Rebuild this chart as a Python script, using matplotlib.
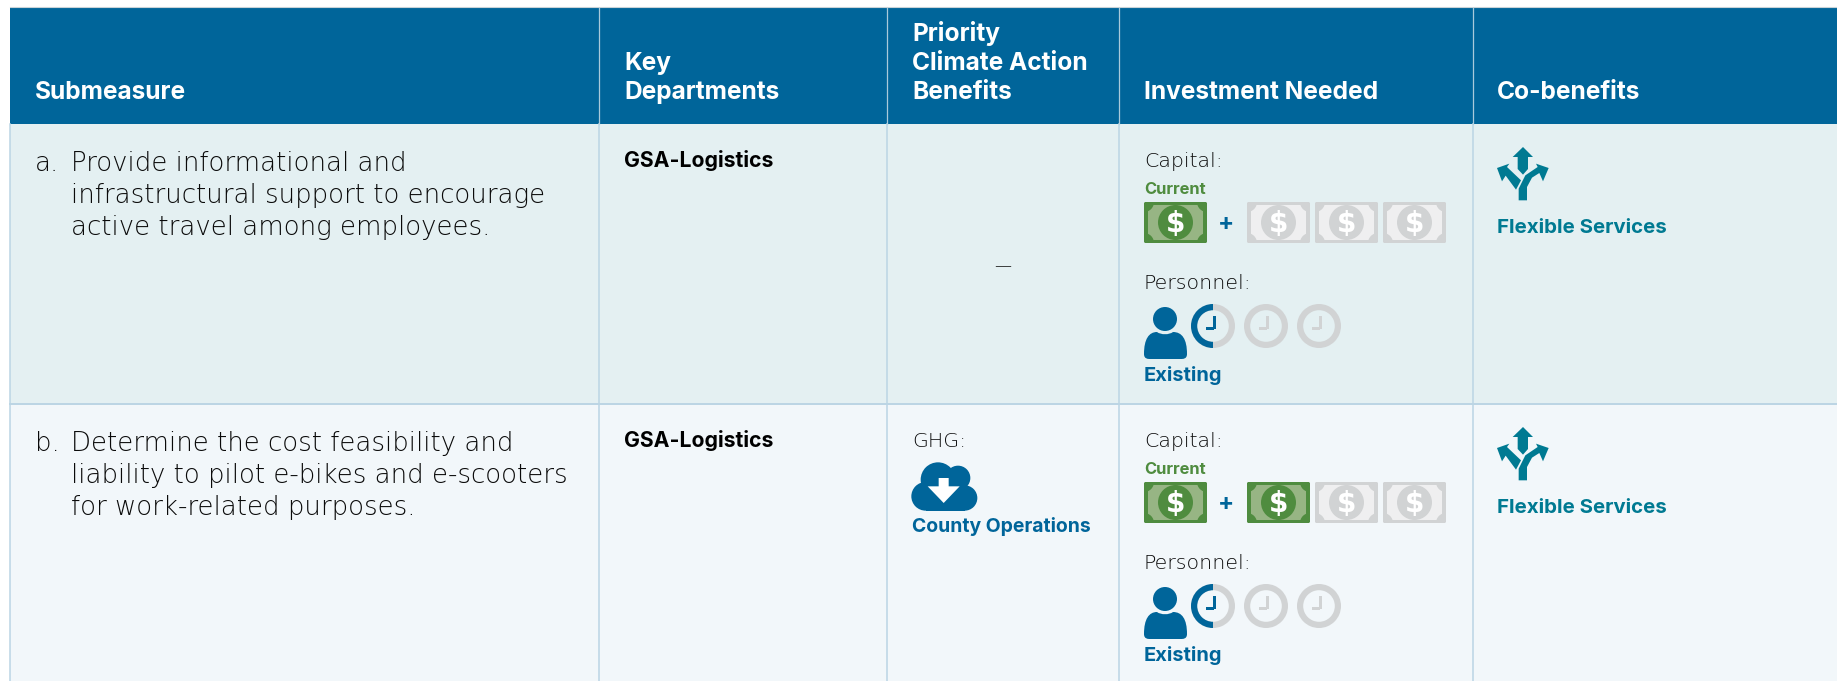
import matplotlib
matplotlib.use("Agg")
import matplotlib.pyplot as plt
from matplotlib.patches import Rectangle, Circle, Wedge, FancyBboxPatch, Polygon, PathPatch
from matplotlib.path import Path

# table content
headers = [["Submeasure"], ["Key", "Departments"], ["Priority", "Climate Action", "Benefits"],
           ["Investment Needed"], ["Co-benefits"]]
letters = ["a.", "b."]
submeasures = [
    ["Provide informational and", "infrastructural support to encourage", "active travel among employees."],
    ["Determine the cost feasibility and", "liability to pilot e-bikes and e-scooters", "for work-related purposes."],
]
departments = ["GSA-Logistics", "GSA-Logistics"]
ghg_benefit = [None, "County Operations"]
bills_current = [1, 1]
bills_new_filled = [0, 1]
bills_new_total = [3, 3]
clocks_total = [3, 3]
personnel_label = ["Existing", "Existing"]
cobenefit = ["Flexible Services", "Flexible Services"]

# layout in pixels
W, H = 1837, 681
col_edges = [10, 599, 887, 1119, 1473, 1837]
head_top, head_bottom = 7, 124
row_tops = [124, 404, 681]

BLUE = "#00659A"
TEAL = "#007A92"
GREEN = "#4F8C3F"
LGREEN = "#97B584"
GRAY = "#D1D3D4"
LGRAY = "#EFEFF0"
ROWS = ["#E4F0F2", "#F2F7FA"]
LINE = "#BBD5E4"
INK = "#0A0A0A"

LIGHT = dict(family="DejaVu Sans", weight=200)
BOLD = dict(family="Inter", weight=700)


def px(size):
    return size * 0.72


fig = plt.figure(figsize=(W / 100, H / 100), dpi=100)
ax = fig.add_axes([0, 0, 1, 1])
ax.set_xlim(0, W)
ax.set_ylim(H, 0)
ax.axis("off")


def bill(x, y, on):
    dark, pale = (GREEN, LGREEN) if on else (GRAY, LGRAY)
    w, h = 63, 41
    body = FancyBboxPatch((x + 1.5, y + 1.5), w - 3, h - 3, boxstyle="round,pad=1.5,rounding_size=2",
                          fc=dark, ec="none")
    ax.add_patch(body)
    ax.add_patch(Rectangle((x + 4, y + 3), w - 8, h - 6, fc=pale, ec="none"))
    for cx in (x, x + w):
        for cy in (y, y + h):
            corner = Circle((cx, cy), 10, fc=dark, ec="none")
            ax.add_patch(corner)
            corner.set_clip_path(body)
    ax.add_patch(Circle((x + w / 2, y + h / 2), 17.5, fc=dark, ec="none"))
    ax.text(x + w / 2, y + h / 2 + 10, "$", color="white", fontsize=px(28), ha="center", va="baseline",
            family="DejaVu Sans", weight="bold")


def person(x, y):
    # x, y = left and top of the head box
    ax.add_patch(Circle((x + 21, y + 12), 12, fc=BLUE, ec="none"))
    verts = [(x, y + 47), (x, y + 32), (x + 5, y + 25), (x + 13, y + 25),
             (x + 17, y + 28), (x + 25, y + 28), (x + 29, y + 25),
             (x + 38, y + 25), (x + 43, y + 32), (x + 43, y + 47),
             (x + 43, y + 52), (x + 39, y + 52), (x + 37, y + 52),
             (x + 6, y + 52), (x + 4, y + 52), (x, y + 52), (x, y + 47)]
    codes = [Path.MOVETO] + [Path.CURVE4] * 9 + [Path.CURVE4] * 3 + [Path.LINETO] + [Path.CURVE4] * 3
    ax.add_patch(PathPatch(Path(verts, codes), fc=BLUE, ec="none"))


def clock(cx, cy, on):
    ax.add_patch(Wedge((cx, cy), 22, 0, 360, width=6.2, fc=GRAY, ec="none"))
    if on:
        ax.add_patch(Wedge((cx, cy), 22, 90, 270, width=6.2, fc=BLUE, ec="none"))
    c = BLUE if on else GRAY
    ax.add_patch(Rectangle((cx, cy - 10), 3, 13, fc=c, ec="none"))
    ax.add_patch(Rectangle((cx - 7, cy + 1), 8, 3, fc=c, ec="none"))


def cloud(x, y):
    for ox, oy, r in [(78, 53, 52), (138, 48, 37), (41, 103, 43), (158, 108, 38)]:
        ax.add_patch(Circle((x + ox / 3, y + oy / 3), r / 3, fc=BLUE, ec="none"))
    ax.add_patch(Rectangle((x + 41 / 3, y + 70 / 3), 117 / 3, 76 / 3, fc=BLUE, ec="none"))
    arrow = [(80, 48), (110, 48), (110, 73), (143, 73), (95, 123), (47, 73), (80, 73)]
    ax.add_patch(Polygon([(x + a / 3, y + b / 3) for a, b in arrow], fc="white", ec="none"))


def paths_icon(x, y):
    # three way arrow, shape read at 3x
    mid = [(78, 0), (108, 30), (93, 30), (93, 66), (78, 83), (62, 66), (62, 30), (47, 30)]
    left = [(0, 63), (37, 50), (30, 60), (72, 100), (57, 128), (26, 86), (15, 103)]
    right = [(65, 160), (90, 160), (90, 120), (105, 92), (127, 78), (138, 103), (155, 63), (117, 50), (122, 60),
             (85, 85), (65, 125)]
    for shape in (mid, left, right):
        ax.add_patch(Polygon([(x + a / 3, y + b / 3) for a, b in shape], fc=TEAL, ec="none"))


# backgrounds
ax.plot([col_edges[0], W], [6.5, 6.5], color="#C9D3D8", lw=0.8)
ax.add_patch(Rectangle((col_edges[0], head_top), W - col_edges[0], head_bottom - head_top, fc=BLUE, ec="none"))
for i in range(2):
    ax.add_patch(Rectangle((col_edges[0], row_tops[i]), W - col_edges[0], row_tops[i + 1] - row_tops[i],
                           fc=ROWS[i], ec="none"))
for xe in col_edges[1:5]:
    ax.plot([xe, xe], [head_top + 1, head_bottom], color="#A9CADB", lw=0.9)
for xe in col_edges[:5]:
    ax.plot([xe, xe], [head_bottom, H], color=LINE, lw=1.1)
ax.plot([col_edges[0], W], [row_tops[1], row_tops[1]], color=LINE, lw=1.4)

# header text
text_x = [35, 624, 912, 1144, 1497]
for j, lines in enumerate(headers):
    for k, line in enumerate(reversed(lines)):
        ax.text(text_x[j], 99 - k * 29, line, color="white", fontsize=px(24.5), va="baseline", **BOLD)

for i, top in enumerate(row_tops[:2]):
    ax.text(text_x[0], top + 47, letters[i], color=INK, fontsize=px(26), va="baseline", **LIGHT)
    for k, line in enumerate(submeasures[i]):
        ax.text(71, top + 47 + k * 32, line, color=INK, fontsize=px(26), va="baseline", **LIGHT)
    ax.text(text_x[1], top + 43, departments[i], color="black", fontsize=px(21.2), va="baseline", **BOLD)

    if ghg_benefit[i] is None:
        ax.text((col_edges[2] + col_edges[3]) / 2, top + 147, "\u2014", color=INK, fontsize=px(17),
                ha="center", va="baseline", **LIGHT)
    else:
        ax.text(text_x[2], top + 43, "GHG:", color=INK, fontsize=px(20.5), va="baseline", **LIGHT)
        cloud(text_x[2], top + 58)
        ax.text(text_x[2], top + 128, ghg_benefit[i], color=BLUE, fontsize=px(19.4), va="baseline", **BOLD)

    ax.text(text_x[3], top + 43, "Capital:", color=INK, fontsize=px(20.5), va="baseline", **LIGHT)
    ax.text(text_x[3], top + 70, "Current", color=GREEN, fontsize=px(16.5), va="baseline", **BOLD)
    for b in range(bills_current[i]):
        bill(text_x[3], top + 78, True)
    ax.text(1226, top + 106, "+", color=BLUE, fontsize=px(24), ha="center", va="baseline", **BOLD)
    for b in range(bills_new_total[i]):
        bill(1247 + b * 68, top + 78, b < bills_new_filled[i])

    ax.text(text_x[3], top + 165, "Personnel:", color=INK, fontsize=px(20.5), va="baseline", **LIGHT)
    person(text_x[3], top + 183)
    for c in range(clocks_total[i]):
        clock(1213 + c * 53, top + 202, c == 0)
    ax.text(text_x[3], top + 257, personnel_label[i], color=BLUE, fontsize=px(20), va="baseline", **BOLD)

    paths_icon(text_x[4], top + 23)
    ax.text(text_x[4], top + 109, cobenefit[i], color=TEAL, fontsize=px(20.5), va="baseline", **BOLD)

fig.savefig("out.png", dpi=100)
